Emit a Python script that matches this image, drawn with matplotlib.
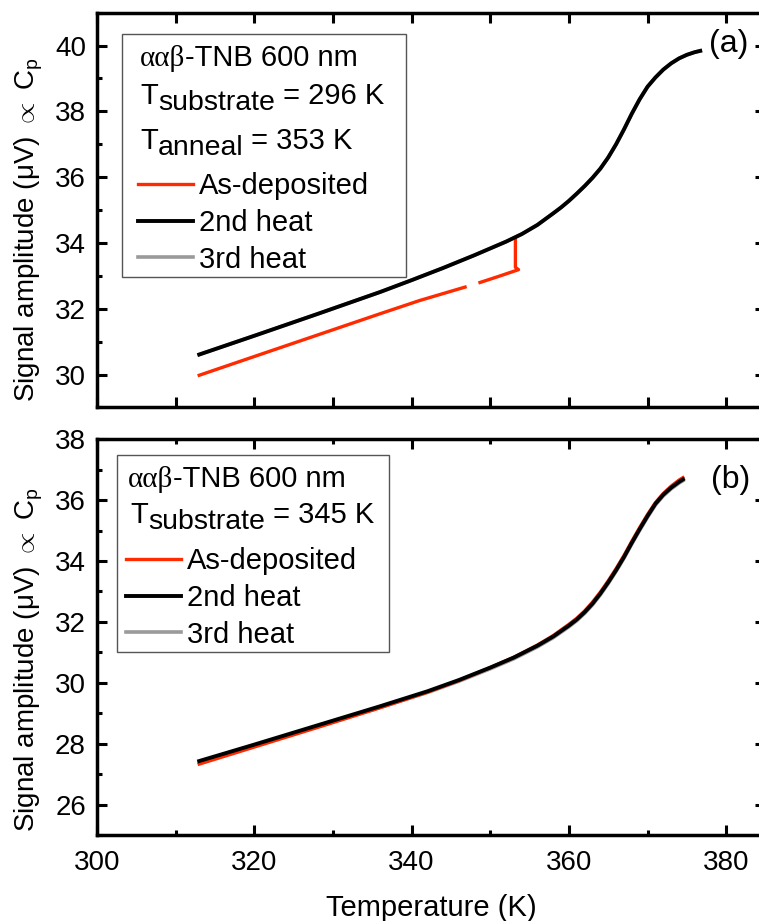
import numpy as np
import matplotlib
matplotlib.use("Agg")
import matplotlib.pyplot as plt
from matplotlib.patches import Rectangle
from matplotlib.ticker import MultipleLocator

plt.rcParams['font.family'] = ['Liberation Sans', 'DejaVu Sans']
plt.rcParams['mathtext.fontset'] = 'custom'
plt.rcParams['mathtext.rm'] = 'Liberation Sans'
plt.rcParams['mathtext.it'] = 'Liberation Sans:italic'
plt.rcParams['mathtext.bf'] = 'Liberation Sans:bold'

RED = '#ff2a00'
GRAY = '#9a9a9a'

# ---- panel (a): T_substrate = 296 K, annealed at 353 K ----
temp_a_dep = [313.0, 320, 328, 336, 341, 346.8, np.nan,
              348.7, 351, 353.6, 353.2, 353.2]
sig_a_dep = [29.98, 30.55, 31.2, 31.85, 32.25, 32.66, np.nan,
             32.8, 32.98, 33.19, 33.26, 34.14]

temp_a_2nd = [313.0, 320, 328, 336, 340, 344, 348, 352, 354, 356, 358, 359,
              360, 361, 362, 363, 364, 365, 366, 367, 368, 369, 370, 371,
              372, 373, 374, 375, 376, 376.7]
sig_a_2nd = [30.61, 31.18, 31.84, 32.51, 32.87, 33.24, 33.63, 34.04, 34.27,
             34.55, 34.9, 35.08, 35.28, 35.5, 35.73, 35.98, 36.26, 36.6, 37.0,
             37.45, 37.93, 38.37, 38.75, 39.03, 39.27, 39.46, 39.61, 39.72,
             39.8, 39.84]

# 3rd heat lies under the 2nd heat curve
temp_a_3rd = temp_a_2nd
sig_a_3rd = sig_a_2nd

# ---- panel (b): T_substrate = 345 K ----
temp_b = [313.0, 320, 328, 336, 342, 346, 350, 353, 356, 358, 360, 361, 362,
          363, 364, 365, 366, 367, 368, 369, 370, 371, 372, 373, 374, 374.5]
sig_b_2nd = [27.43, 27.97, 28.6, 29.23, 29.72, 30.09, 30.5, 30.83, 31.22,
             31.52, 31.88, 32.08, 32.32, 32.6, 32.93, 33.3, 33.7, 34.13, 34.6,
             35.05, 35.48, 35.88, 36.18, 36.41, 36.6, 36.68]
sig_b_dep = [27.33, 27.89, 28.53, 29.18, 29.69, 30.07, 30.5, 30.84, 31.24,
             31.55, 31.92, 32.12, 32.36, 32.65, 32.98, 33.35, 33.75, 34.18,
             34.65, 35.1, 35.53, 35.92, 36.22, 36.46, 36.66, 36.74]
sig_b_3rd = [27.39, 27.93, 28.56, 29.19, 29.68, 30.05, 30.46, 30.79, 31.18,
             31.48, 31.84, 32.04, 32.28, 32.56, 32.89, 33.26, 33.66, 34.09,
             34.56, 35.01, 35.44, 35.84, 36.14, 36.37, 36.56, 36.64]

labels = ['As-deposited', '2nd heat', '3rd heat']

W, H = 759, 921
fig = plt.figure(figsize=(W / 100, H / 100), dpi=100)


def fx(px):
    return px / W


def fy(py):
    return 1 - py / H


ax_a = fig.add_axes([fx(97), fy(407.5), 668.5 / W, 394.8 / H])
ax_b = fig.add_axes([fx(97), fy(835), 668.5 / W, 395.7 / H])

SANS = ['Liberation Sans', 'DejaVu Sans']
SERIF = ['Liberation Serif', 'DejaVu Serif']


def chain_text(ax, parts, x, y):
    # parts: (string, fontsize, vertical shift in points, family)
    prev = None
    for s, size, dy, fam in parts:
        if prev is None:
            prev = ax.text(fx(x), fy(y), s, fontsize=size, family=fam,
                           va='baseline', ha='left', transform=fig.transFigure)
        else:
            prev = ax.annotate(s, xy=(1, 0), xycoords=prev, xytext=(0, dy),
                               textcoords='offset points', fontsize=size,
                               family=fam, va='bottom', ha='left')
    return prev


def draw_panel(ax, t_dep, sig_dep, t_2nd, sig_2nd, t_3rd, sig_3rd):
    l3, = ax.plot(t_3rd, sig_3rd, color=GRAY, lw=2.6, zorder=2)
    l1, = ax.plot(t_dep, sig_dep, color=RED, lw=2.4, zorder=3)
    l2, = ax.plot(t_2nd, sig_2nd, color='black', lw=2.8, zorder=4)
    ax.set_xlim(300, 385)
    ax.tick_params(which='both', direction='in', top=True, right=True, width=2.2)
    ax.tick_params(which='major', length=7)
    ax.tick_params(which='minor', length=3.5)
    ax.tick_params(axis='y', labelsize=20, pad=8)
    ax.tick_params(axis='x', labelsize=20, pad=10.5)
    ax.yaxis.set_major_locator(MultipleLocator(2))
    ax.yaxis.set_minor_locator(MultipleLocator(1))
    for s in ax.spines.values():
        s.set_linewidth(2.5)
    ax.set_ylabel('Signal amplitude (μV) $\\propto$ C$_\\mathregular{p}$', fontsize=20)
    return [l1, l2, l3]


h_a = draw_panel(ax_a, temp_a_dep, sig_a_dep, temp_a_2nd, sig_a_2nd, temp_a_3rd, sig_a_3rd)
h_b = draw_panel(ax_b, temp_b, sig_b_dep, temp_b, sig_b_2nd, temp_b, sig_b_3rd)

ax_a.set_ylim(29, 41)
ax_a.xaxis.set_major_locator(MultipleLocator(10))
ax_a.tick_params(axis='x', labelbottom=False)
ax_b.set_ylim(25, 38)
ax_b.xaxis.set_major_locator(MultipleLocator(20))
ax_b.xaxis.set_minor_locator(MultipleLocator(10))
ax_b.set_xlabel('Temperature (K)', fontsize=21, labelpad=13)

ax_a.yaxis.set_label_coords(-0.078, 0.45)
ax_b.yaxis.set_label_coords(-0.078, 0.442)

ax_a.text(382.8, 40.06, '(a)', ha='right', va='center', fontsize=23)
ax_b.text(383.0, 36.67, '(b)', ha='right', va='center', fontsize=23)

# legend boxes
fig.add_artist(Rectangle((fx(122), fy(276.7)), (406 - 122) / W, (276.7 - 34) / H,
                         transform=fig.transFigure, fill=False, ec='#555555', lw=1))
fig.add_artist(Rectangle((fx(117), fy(651.7)), (388.7 - 117) / W, (651.7 - 455) / H,
                         transform=fig.transFigure, fill=False, ec='#555555', lw=1))

chain_text(ax_a, [('ααβ', 21, 0, SERIF), ('-TNB 600 nm', 21, 0, SANS)], 140, 66)
chain_text(ax_a, [('T', 21, 0, SANS), ('substrate', 20.5, -4.3, SANS), (' = 296 K', 21, 4.3, SANS)], 140, 104)
chain_text(ax_a, [('T', 21, 0, SANS), ('anneal', 20.5, -4.3, SANS), (' = 353 K', 21, 4.3, SANS)], 140, 149)

chain_text(ax_b, [('ααβ', 21, 0, SERIF), ('-TNB 600 nm', 21, 0, SANS)], 128, 486.7)
chain_text(ax_b, [('T', 21, 0, SANS), ('substrate', 20.5, -4.3, SANS), (' = 345 K', 21, 4.3, SANS)], 130, 523)

for ax, h, (lx, ly) in [(ax_a, h_a, (138, 172)), (ax_b, h_b, (126, 547))]:
    ax.legend(h, labels, loc='upper left', bbox_to_anchor=(fx(lx), fy(ly)),
              bbox_transform=fig.transFigure, frameon=False, fontsize=21,
              handlelength=1.9, handletextpad=0.2, labelspacing=0.3,
              borderpad=0, borderaxespad=0)

fig.savefig('out.png', dpi=100)
